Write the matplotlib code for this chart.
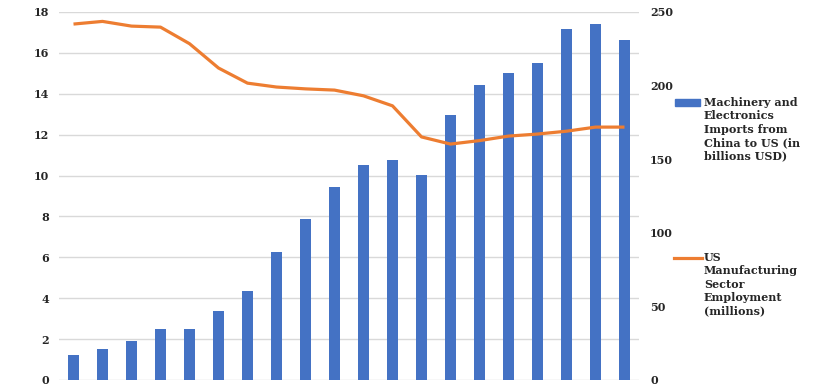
import matplotlib
matplotlib.use("Agg")
import matplotlib.pyplot as plt
from matplotlib.ticker import FixedLocator
from matplotlib.patches import Rectangle
from matplotlib.lines import Line2D
import numpy as np

years = list(range(1997, 2017))
imports_bn = [17.1, 21.2, 26.6, 34.8, 34.8, 47.1, 60.7, 86.7, 109.2, 131.2,
              146.1, 149.6, 139.4, 180.2, 200.5, 208.7, 215.5, 238.6, 242.0, 231.2]
employment_mn = [17.41, 17.54, 17.31, 17.26, 16.45, 15.26, 14.52, 14.33, 14.24, 14.18,
                 13.90, 13.41, 11.89, 11.54, 11.71, 11.93, 12.03, 12.17, 12.37, 12.37]
left_ticks = list(range(0, 19, 2))
right_ticks = list(range(0, 251, 50))
label_bars = "Machinery and\nElectronics\nImports from\nChina to US (in\nbillions USD)"
label_line = "US\nManufacturing\nSector\nEmployment\n(millions)"

BLUE = "#4472C4"
ORANGE = "#ED7D31"
GRID = "#D9D9D9"
TXT = "#262626"
FONT = "DejaVu Serif"

fig = plt.figure(figsize=(8.19, 3.85), dpi=100)
ax = fig.add_axes([59/819, 1-380/385, 580/819, 368/385])
x = np.arange(len(years))

# bars on right-hand scale
ax.bar(x, imports_bn, width=0.4, color=BLUE, zorder=2)
ax.set_ylim(0, 250)
ax.set_xlim(-0.5, len(years)-0.5)
ax.set_yticks(right_ticks)
ax.yaxis.set_minor_locator(FixedLocator([t*250/18 for t in left_ticks]))
ax.yaxis.remove_overlapping_locs = False
ax.grid(which="minor", axis="y", color=GRID, linewidth=1.0, zorder=0)
ax.set_axisbelow(True)
ax.set_xticks([])
for s in ax.spines.values():
    s.set_visible(False)

# line on left-hand scale
ax2 = ax.twinx()
ax2.plot(x, employment_mn, color=ORANGE, linewidth=2.3, solid_capstyle="butt", zorder=3)
ax2.set_ylim(0, 18)
ax2.set_yticks(left_ticks)
for s in ax2.spines.values():
    s.set_visible(False)

# place tick labels: bars scale on right, line scale on left
ax.yaxis.tick_right()
ax2.yaxis.tick_left()
ax.yaxis.set_minor_formatter(plt.NullFormatter())
ax.tick_params(axis="y", which="both", length=0, pad=8, labelsize=8, labelcolor=TXT,
               left=False, labelleft=False, right=True, labelright=True)
ax2.tick_params(axis="y", length=0, pad=7, labelsize=8, labelcolor=TXT,
                left=True, labelleft=True, right=False, labelright=False)
for a in (ax, ax2):
    for lab in a.get_yticklabels():
        lab.set_fontfamily(FONT)
        lab.set_fontweight("bold")

# legend (manual)
W, H = 819, 385
def fx(px): return px / W
def fy(py): return 1 - py / H
fig.add_artist(Rectangle((fx(675), fy(106.5)), fx(700)-fx(675), 7/H,
                         transform=fig.transFigure, color=BLUE))
fig.text(fx(704), fy(97), label_bars, transform=fig.transFigure, ha="left", va="top",
         fontsize=8, fontweight="bold", family=FONT, color=TXT, linespacing=1.27)
fig.add_artist(Line2D([fx(674), fx(702)], [fy(258), fy(258)], transform=fig.transFigure,
                      color=ORANGE, linewidth=2.3))
fig.text(fx(704), fy(252), label_line, transform=fig.transFigure, ha="left", va="top",
         fontsize=8, fontweight="bold", family=FONT, color=TXT, linespacing=1.27)

fig.savefig("out.png", dpi=100)
